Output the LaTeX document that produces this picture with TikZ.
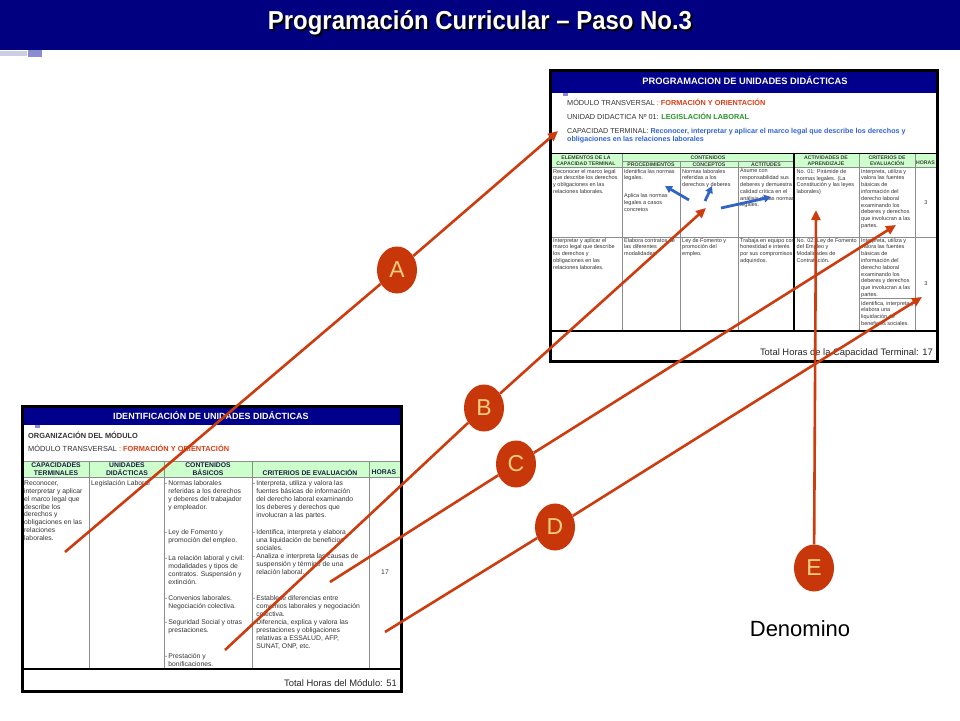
\documentclass[tikz,border=0pt]{standalone}
\usepackage{fontspec}
\setmainfont{Liberation Sans}
\usepackage{graphicx}
\usetikzlibrary{arrows.meta,shapes.geometric}
\definecolor{navy}{RGB}{0,0,128}
\definecolor{hdrblue}{RGB}{0,0,140}
\definecolor{lnk}{RGB}{204,60,15}
\definecolor{circfill}{RGB}{200,55,10}
\definecolor{circtext}{RGB}{250,205,130}
\definecolor{bluearr}{RGB}{50,100,200}
\definecolor{paleg}{RGB}{204,255,204}
\definecolor{txtred}{RGB}{220,60,20}
\definecolor{txtgreen}{RGB}{40,150,40}
\definecolor{txtblue}{RGB}{50,100,210}
\definecolor{hdrtxt}{RGB}{30,30,70}
\definecolor{gridgray}{RGB}{140,140,140}
\definecolor{lavA}{RGB}{205,205,230}
\definecolor{lavB}{RGB}{140,140,210}
\newcommand{\myhy}{\makebox[3.2pt][l]{-}}
\newcommand{\myind}{\hspace*{3.2pt}}
\newcommand{\mytitletext}{Programación Curricular – Paso No.3}
\begin{document}
\begin{tikzpicture}[x=1pt,y=-1pt,
  tinycell/.style={anchor=north west,inner sep=0pt,align=left,text=black!80,font=\fontsize{5.5}{6.8}\selectfont},
  smallcell/.style={anchor=north west,inner sep=0pt,align=left,text=black!80,font=\fontsize{6.8}{7.9}\selectfont},
  tinyhead/.style={inner sep=0pt,align=center,text=black!75,font=\bfseries\fontsize{5.2}{6.4}\selectfont},
  smallhead/.style={inner sep=0pt,align=center,text=hdrtxt,font=\bfseries\fontsize{6.8}{7.8}\selectfont},
  infoline/.style={anchor=base west,inner sep=0pt,text=black!80,font=\fontsize{7.3}{8}\selectfont},
  bandtitle/.style={anchor=base,inner sep=0pt,text=white,font=\bfseries\fontsize{9.3}{10}\selectfont},
  totalline/.style={anchor=base east,inner sep=0pt,text=black!85,font=\fontsize{9.4}{10}\selectfont},
  gridline/.style={draw=gridgray,line width=0.8pt},
  boldline/.style={draw=black,line width=1.6pt},
  frame/.style={draw=black,line width=3pt},
  link/.style={draw=lnk,line width=2.6pt,-{Triangle[length=10pt,width=9pt]}},
  bluelink/.style={draw=bluearr,line width=2.8pt,-{Triangle[length=7pt,width=7.5pt]}},
  badge/.style={ellipse,fill=circfill,minimum width=40pt,minimum height=47pt,inner sep=0pt,text=circtext,font=\fontsize{23}{23}\selectfont},
]
\useasboundingbox (0,0) rectangle (960,720);
\fill[white] (0,0) rectangle (960,720);

% ---------- page header ----------
\fill[navy] (0,0) rectangle (960,50);
\fill[lavA] (0,51) rectangle (27,56);
\fill[lavB] (28,50) rectangle (42,57);
\node[anchor=base,inner sep=0pt,text=white,font=\bfseries\fontsize{26}{28}\selectfont] (title) at (480,29.5)
  {\makebox[0pt][l]{\hspace*{2pt}\raisebox{-2pt}{\textcolor{black}{\scalebox{0.92}[1]{\mytitletext}}}}\scalebox{0.92}[1]{\mytitletext}};

% ---------- top right table ----------
\fill[hdrblue] (552,72) rectangle (936,93);
\node[bandtitle] (ttitle) at (745,84.5) {PROGRAMACION DE UNIDADES DIDÁCTICAS};
\fill[lavB] (563,93) rectangle (568,96);
\node[infoline] (tmod) at (567,105.5) {MÓDULO  TRANSVERSAL \textcolor{txtred}{:}  \textcolor{txtred}{\bfseries FORMACIÓN Y ORIENTACIÓN}};
\node[infoline] (tud) at (567,119.5) {UNIDAD DIDACTICA Nº 01:   \textcolor{txtgreen}{\bfseries LEGISLACIÓN LABORAL}};
\node[infoline,font=\fontsize{7.15}{8}\selectfont] (tcap) at (567,133.5) {CAPACIDAD TERMINAL: \textcolor{txtblue}{\bfseries Reconocer, interpretar y aplicar el marco legal que describe los derechos y}};
\node[infoline,text=txtblue,font=\bfseries\fontsize{7.15}{8}\selectfont] (tcap2) at (567,141.8) {obligaciones en las relaciones laborales};

\fill[paleg] (552,153.5) rectangle (936,167.5);
\draw[boldline,line width=1.2pt] (552,153.5) -- (936,153.5);
\draw[gridline] (552,167.5) -- (936,167.5);
\draw[gridline] (622,161.5) -- (794,161.5);
\draw[gridline] (552,237) -- (936,237);
\draw[gridline] (859,298) -- (915,298);
\draw[gridline] (622,153.5) -- (622,331);
\draw[gridline] (680,161.5) -- (680,331);
\draw[gridline] (738,161.5) -- (738,331);
\draw[boldline] (794,153.5) -- (794,331);
\draw[gridline] (859,153.5) -- (859,331);
\draw[gridline] (915,153.5) -- (915,331);
\draw[boldline] (552,331) -- (936,331);
\draw[frame] (550,70.5) rectangle (937.5,361);

\node[tinyhead] (th1) at (586,160.5) {ELEMENTOS DE LA\\CAPACIDAD TERMINAL};
\node[tinyhead] (th2) at (708,157.5) {CONTENIDOS};
\node[tinyhead] (th3) at (651,164.5) {PROCEDIMIENTOS};
\node[tinyhead] (th4) at (709,164.5) {CONCEPTOS};
\node[tinyhead] (th5) at (766,164.5) {ACTITUDES};
\node[tinyhead] (th6) at (826,160.5) {ACTIVIDADES DE\\APRENDIZAJE};
\node[tinyhead] (th7) at (887,160.5) {CRITERIOS DE\\EVALUACIÓN};
\node[tinyhead] (th8) at (925.5,163) {HORAS};

\node[tinycell] (r1c1) at (553,169) {Reconocer el marco legal\\que describe los derechos\\y obligaciones en las\\relaciones laborales.};
\node[tinycell] (r1c2a) at (624,169) {Identifica las normas\\legales.};
\node[tinycell] (r1c2b) at (624,193.5) {Aplica las normas\\legales a casos\\concretos};
\node[tinycell] (r1c3) at (682,169) {Normas laborales\\referidas a los\\derechos y deberes};
\node[tinycell] (r1c4) at (740,169) {Asume con\\responsabilidad sus\\deberes y demuestra\\calidad crítica en el\\análisis de las normas\\legales.};
\node[tinycell] (r1c5) at (796.5,169) {No. 01: Pirámide de\\normas legales. (La\\Constitución y las leyes\\laborales)};
\node[tinycell] (r1c6) at (861,169) {Interpreta, utiliza y\\valora las fuentes\\básicas de\\información del\\derecho laboral\\examinando los\\deberes y derechos\\que involucran  a las\\partes.};
\node[inner sep=0pt,text=black!80,font=\fontsize{5.5}{6.8}\selectfont] (r1c7) at (926,203) {3};

\node[tinycell] (r2c1) at (553,238) {Interpretar y aplicar  el\\marco legal que describe\\los derechos y\\obligaciones en las\\relaciones laborales.};
\node[tinycell] (r2c2) at (624,238) {Elabora contratos de\\las diferentes\\modalidades.};
\node[tinycell] (r2c3) at (682,238) {Ley de Fomento y\\promoción del\\empleo.};
\node[tinycell] (r2c4) at (740,238) {Trabaja en equipo con\\honestidad e interés\\por sus compromisos\\adquiridos.};
\node[tinycell] (r2c5) at (796.5,238) {No. 02: Ley de Fomento\\del Empleo y\\Modalidades de\\Contratación.};
\node[tinycell] (r2c6a) at (861,238) {Interpreta, utiliza y\\valora las fuentes\\básicas de\\información del\\derecho laboral\\examinando los\\deberes y derechos\\que involucran  a las\\partes.};
\node[tinycell] (r2c6b) at (861,301) {Identifica, interpreta y\\elabora  una\\liquidación de\\beneficios sociales.};
\node[inner sep=0pt,text=black!80,font=\fontsize{5.5}{6.8}\selectfont] (r2c7) at (926,284) {3};

\node[totalline] (ttotal) at (933,355.5) {Total Horas de la Capacidad Terminal: 17};

% blue arrows
\coordinate (p0) at (689,200); \coordinate (p1) at (665,186);
\coordinate (q0) at (705,201); \coordinate (q1) at (712,186);
\coordinate (r0) at (721,208); \coordinate (r1) at (771,197);
\draw[bluelink] (p0) -- (p1);
\draw[bluelink] (q0) -- (q1);
\draw[bluelink] (r0) -- (r1);

% ---------- bottom left table ----------
\fill[hdrblue] (23.5,407.5) rectangle (399.5,425);
\node[bandtitle,font=\bfseries\fontsize{9}{10}\selectfont] (btitle) at (211,419.5) {IDENTIFICACIÓN DE UNIDADES DIDÁCTICAS};
\fill[lavB] (35,425) rectangle (40,428);
\node[infoline,font=\bfseries\fontsize{7.4}{8}\selectfont] (borg) at (28,438.5) {ORGANIZACIÓN DEL MÓDULO};
\node[infoline,font=\fontsize{7.4}{8}\selectfont] (bmod) at (28,451.5) {MÓDULO  TRANSVERSAL \textcolor{txtred}{:}  \textcolor{txtred}{\bfseries FORMACIÓN Y ORIENTACIÓN}};

\fill[paleg] (23.5,461) rectangle (399.5,477);
\draw[gridline] (23.5,461) -- (399.5,461);
\draw[gridline] (23.5,477) -- (399.5,477);
\draw[gridline] (89,461) -- (89,669);
\draw[gridline] (164,461) -- (164,669);
\draw[gridline] (252,461) -- (252,669);
\draw[gridline] (369,461) -- (369,669);
\draw[boldline] (23.5,669) -- (399.5,669);
\draw[frame] (22,406) rectangle (401,691);

\node[smallhead] (bh1) at (56,469) {CAPACIDADES\\TERMINALES};
\node[smallhead] (bh2) at (127,469) {UNIDADES\\DIDÁCTICAS};
\node[smallhead] (bh3) at (208,469) {CONTENIDOS\\BÁSICOS};
\node[smallhead] (bh4) at (310,472.5) {CRITERIOS DE EVALUACIÓN};
\node[smallhead] (bh5) at (384,472.5) {HORAS};

\node[smallcell] (bc1) at (24,480.5) {Reconocer,\\interpretar y aplicar\\el marco legal que\\describe los\\derechos y\\obligaciones en las\\relaciones\\laborales.};
\node[smallcell] (bc2) at (91,480.5) {Legislación Laboral};
\node[smallcell] (bc3a) at (165,480.5) {\myhy Normas laborales\\\myind referidas a los derechos\\\myind y deberes del  trabajador\\\myind y empleador.};
\node[smallcell] (bc3b) at (165,529.5) {\myhy Ley de Fomento y\\\myind promoción del empleo.};
\node[smallcell] (bc3c) at (165,555.5) {\myhy La relación laboral y civil:\\\myind modalidades y tipos de\\\myind contratos. Suspensión y\\\myind extinción.};
\node[smallcell] (bc3d) at (165,595.5) {\myhy Convenios laborales.\\\myind Negociación colectiva.};
\node[smallcell] (bc3e) at (165,619.5) {\myhy Seguridad  Social y otras\\\myind prestaciones.};
\node[smallcell] (bc3f) at (165,653.5) {\myhy Prestación y\\\myind bonificaciones.};
\node[smallcell] (bc4a) at (253,480.5) {\myhy Interpreta, utiliza y valora las\\\myind fuentes básicas de información\\\myind del derecho laboral examinando\\\myind los deberes y derechos que\\\myind involucran  a las partes.};
\node[smallcell] (bc4b) at (253,529.5) {\myhy Identifica, interpreta y  elabora\\\myind una liquidación de beneficios\\\myind sociales.};
\node[smallcell] (bc4c) at (253,553.5) {\myhy Analiza e interpreta las causas de\\\myind suspensión y  término de una\\\myind relación laboral.};
\node[smallcell] (bc4d) at (253,595.5) {\myhy Establece diferencias entre\\\myind convenios laborales y negociación\\\myind colectiva.};
\node[smallcell] (bc4e) at (253,619.5) {\myhy Diferencia, explica y valora las\\\myind prestaciones y obligaciones\\\myind relativas a ESSALUD, AFP,\\\myind SUNAT, ONP, etc.};
\node[inner sep=0pt,text=black!80,font=\fontsize{6.8}{7.9}\selectfont] (bc5) at (385,572) {17};

\node[totalline] (btotal) at (397,686) {Total Horas del Módulo: 51};

% ---------- badges and red connectors ----------
\node[badge] (A) at (397,270) {A};
\node[badge] (B) at (484,408) {B};
\node[badge] (C) at (516,464) {C};
\node[badge] (D) at (555,527) {D};
\node[badge] (E) at (814,568) {E};

\coordinate (a0) at (65,552); \coordinate (a1) at (558,131);
\coordinate (b0) at (225,650); \coordinate (b1) at (706,208);
\coordinate (c0) at (330,582); \coordinate (c1) at (896,225);
\coordinate (d0) at (385,632); \coordinate (d1) at (922,297);
\coordinate (e1) at (816,210);

\draw[link] (a0) -- (A) -- (a1);
\draw[link] (b0) -- (B) -- (b1);
\draw[link] (c0) -- (C) -- (c1);
\draw[link] (d0) -- (D) -- (d1);
\draw[link] (E) -- (e1);

\node[anchor=base,inner sep=0pt,text=black,font=\fontsize{22}{24}\selectfont] (denom) at (800,636) {Denomino};
\end{tikzpicture}
\end{document}
